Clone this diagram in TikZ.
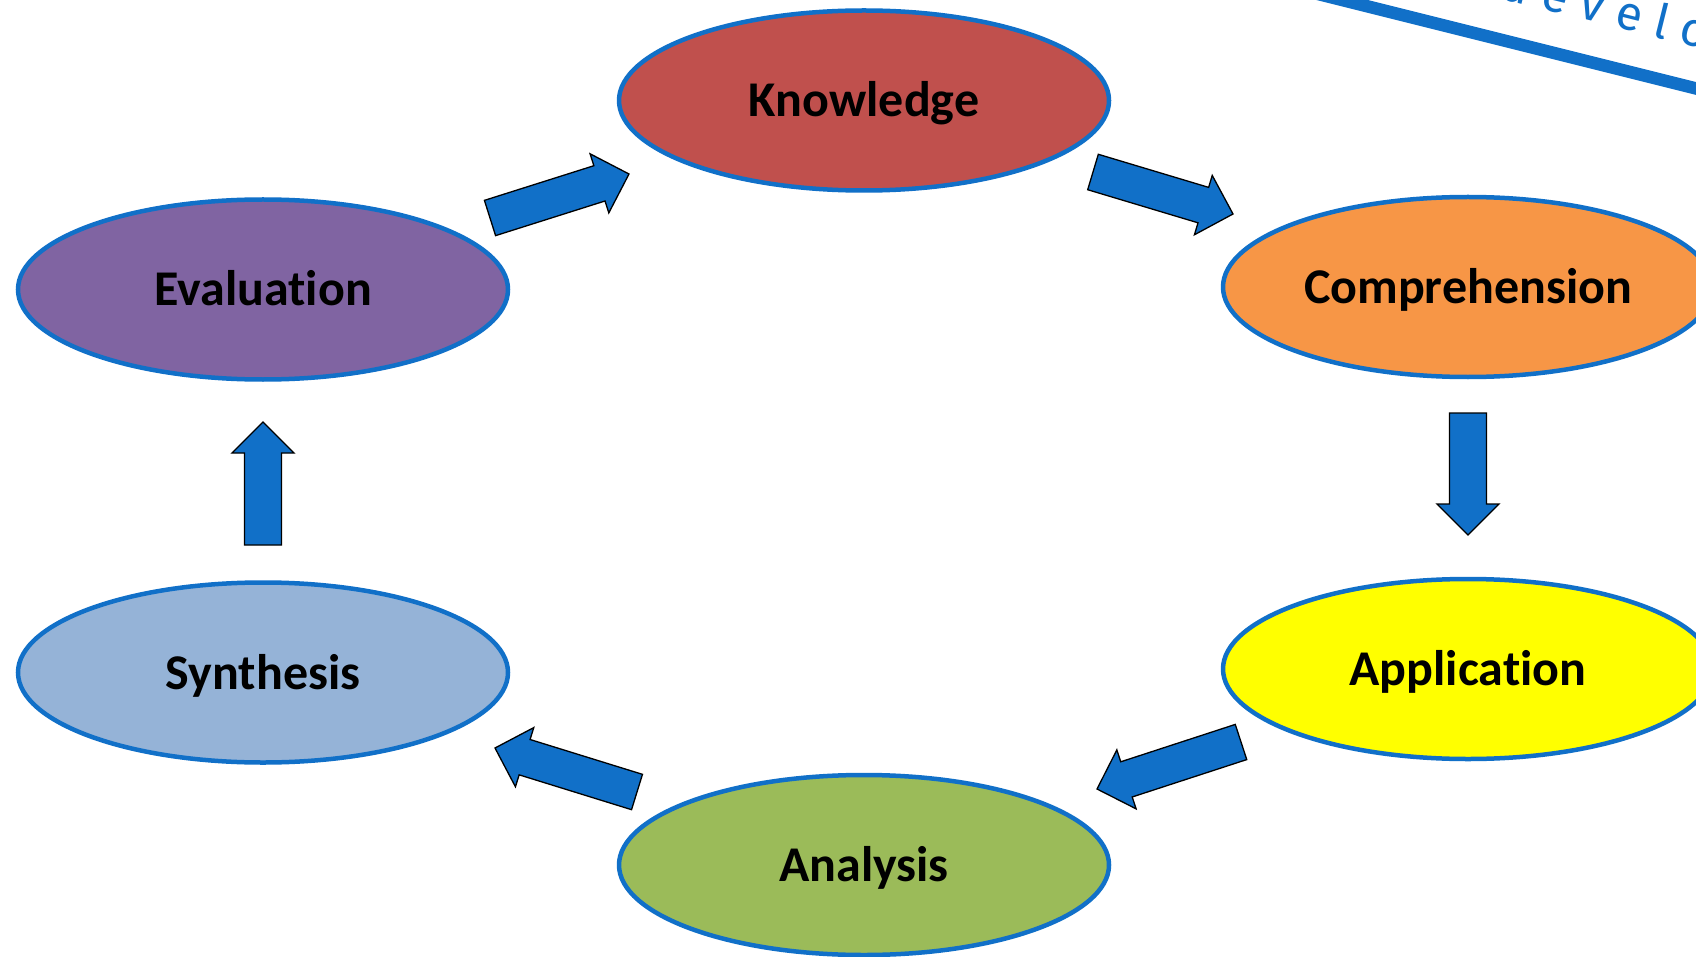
\documentclass[tikz,border=0pt]{standalone}
\usepackage{fontspec}
\setmainfont{Carlito}[Ligatures=NoCommon]
\newfontfamily\handfont{Fira Sans}[LetterSpace=28]
\usetikzlibrary{shapes.geometric,calc}
\definecolor{edgeblue}{HTML}{1170C8}
\definecolor{knowc}{HTML}{C0504D}
\definecolor{compc}{HTML}{F79646}
\definecolor{applc}{HTML}{FFFF00}
\definecolor{analc}{HTML}{9BBB59}
\definecolor{synthc}{HTML}{95B3D7}
\definecolor{evalc}{HTML}{8064A2}
\newcommand\blockarr[2]{%
  \coordinate (m) at ($(#2)!31pt!(#1)$);
  \draw[blockarrow] ($(#1)!18.5pt!90:(#2)$) -- ($(m)!18.5pt!90:(#2)$) -- ($(m)!31pt!90:(#2)$) -- (#2)
    -- ($(m)!31pt!-90:(#2)$) -- ($(m)!18.5pt!-90:(#2)$) -- ($(#1)!18.5pt!-90:(#2)$) -- cycle;}
\begin{document}
\begin{tikzpicture}[x=1pt,y=-1pt,
  stage/.style={ellipse, draw=edgeblue, line width=4.5pt, minimum width=490pt, minimum height=180pt,
    inner sep=0pt, font=\bfseries\fontsize{50}{50}\selectfont, text height=33pt, text depth=0pt},
  blockarrow/.style={fill=edgeblue, draw=black, line width=1.3pt, line join=miter}]
\useasboundingbox (0,0) rectangle (1696,957);
\clip (0,0) rectangle (1696,957);
\fill[white] (0,0) rectangle (1696,957);

% annotation line and handwriting
\draw[edgeblue, line width=12.5pt] (1300,-10.5) -- (1710,92);
\node[rotate=-14, anchor=base west, inner sep=0pt, text=edgeblue,
  font=\handfont\fontsize{48}{48}\selectfont] (hw) at (1498,-2) {develop};

% stages
\node[stage, fill=knowc]  (K) at (864,100.5) {Knowledge};
\node[stage, fill=compc]  (C) at (1468,287) {Comprehension};
\node[stage, fill=applc]  (A) at (1468,669) {Application};
\node[stage, fill=analc]  (N) at (864,865) {Analysis};
\node[stage, fill=synthc] (S) at (263,672.5) {Synthesis};
\node[stage, fill=evalc]  (E) at (263,289.5) {Evaluation};

% arrow end points
\coordinate (ekT) at (490,218);   \coordinate (ekH) at (629,174);
\coordinate (kcT) at (1093,172);  \coordinate (kcH) at (1233,214);
\coordinate (caT) at (1468,413);  \coordinate (caH) at (1468,535);
\coordinate (anT) at (1241,742);  \coordinate (anH) at (1097,789);
\coordinate (nsT) at (637,792);   \coordinate (nsH) at (495,748);
\coordinate (seT) at (263,545);   \coordinate (seH) at (263,422);

\blockarr{ekT}{ekH}
\blockarr{kcT}{kcH}
\blockarr{caT}{caH}
\blockarr{anT}{anH}
\blockarr{nsT}{nsH}
\blockarr{seT}{seH}
\end{tikzpicture}
\end{document}
